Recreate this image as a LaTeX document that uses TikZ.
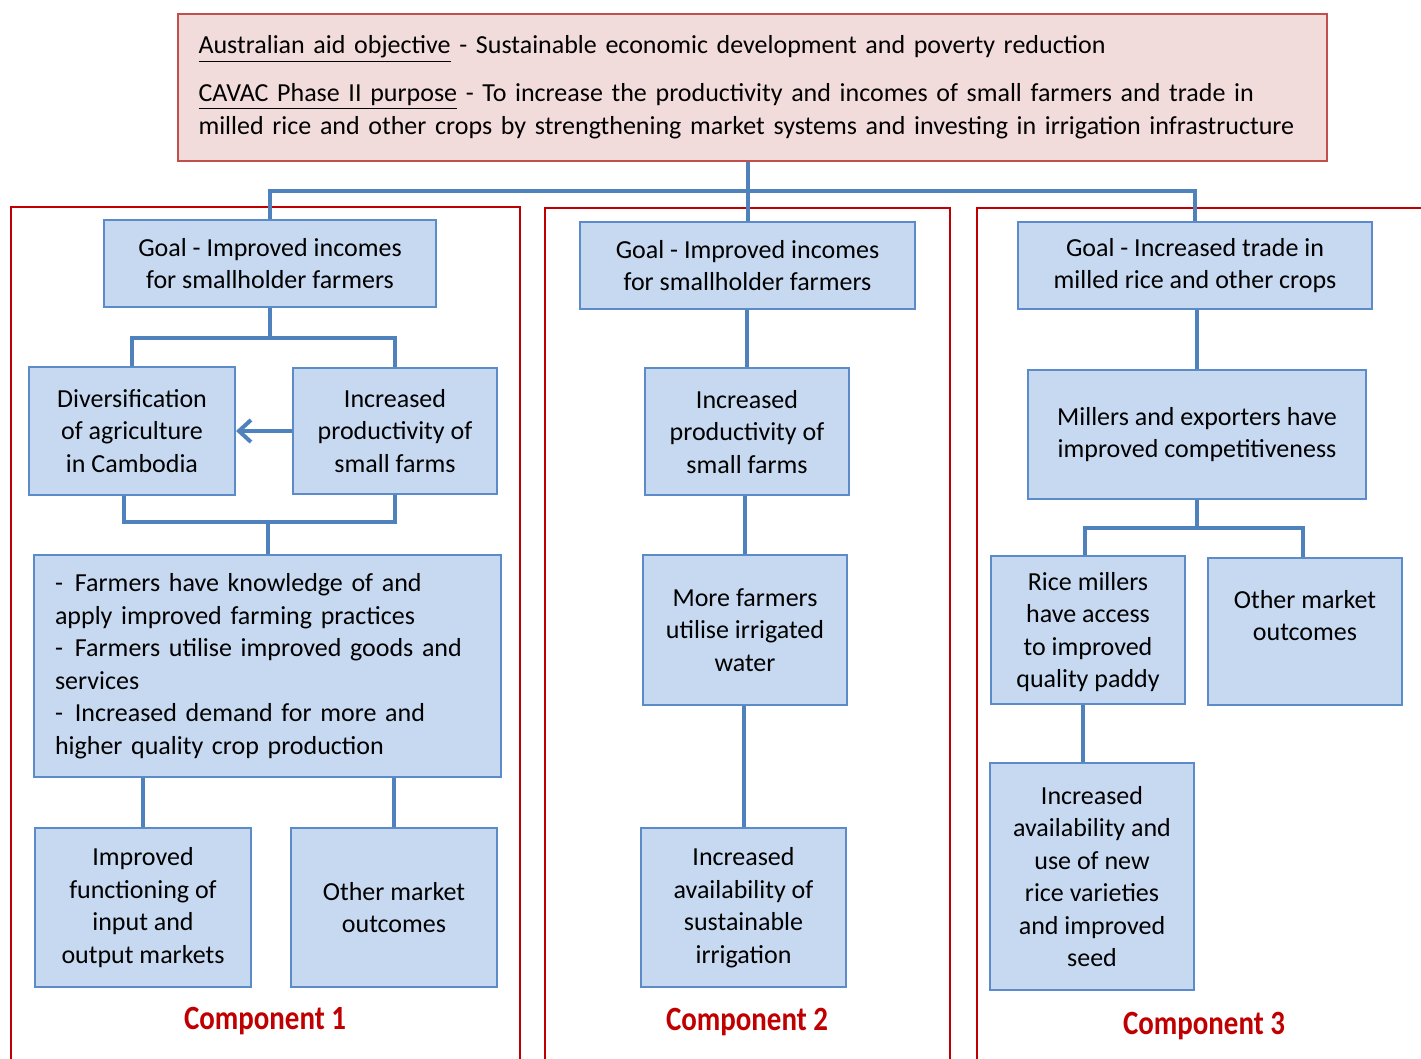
\documentclass[tikz,border=0pt]{standalone}
\usepackage{fontspec}
\setmainfont{Carlito}
\usetikzlibrary{arrows.meta}

\definecolor{boxfill}{HTML}{C6D9F1}
\definecolor{boxline}{HTML}{5B8BC9}
\definecolor{connblue}{HTML}{4F81BD}
\definecolor{pinkfill}{HTML}{F2DCDB}
\definecolor{pinkline}{HTML}{C0504D}
\definecolor{framered}{HTML}{C00000}

\tikzset{
  box/.style={draw=boxline, fill=boxfill, line width=1pt, align=center,
    inner sep=2pt, font=\fontsize{13}{16.25}\selectfont},
  conn/.style={draw=connblue, line width=2pt},
  frame/.style={draw=framered, line width=1.3pt},
  complabel/.style={text=framered, font=\fontsize{17}{20}\selectfont\bfseries}
}

\begin{document}
\begin{tikzpicture}[x=0.5pt, y=-0.5pt]
\useasboundingbox (0,0) rectangle (1421,1059);

% component frames, open at the bottom
\draw[frame] (11,1080) -- (11,207) -- (520,207) -- (520,1080);
\draw[frame] (545,1080) -- (545,208) -- (950,208) -- (950,1080);
\draw[frame] (977,1080) -- (977,208) -- (1440,208);

% overall objective
\node[draw=pinkline, fill=pinkfill, line width=1pt, minimum width=574.5pt,
      minimum height=73.5pt, text width=554pt, inner xsep=10pt, align=left,
      font=\fontsize{13}{16.5}\selectfont] (top) at (752.5,87.5)
  {\underline{Australian aid objective} - Sustainable economic development and poverty reduction\\[7.5pt]
   \underline{CAVAC Phase II purpose} - To increase the productivity and incomes of small farmers and trade in\\
   milled rice and other crops by strengthening market systems and investing in irrigation infrastructure};

% component 1
\node[box, minimum width=166pt, minimum height=43.5pt] (G1) at (270,263.5)
  {Goal - Improved incomes\\for smallholder farmers};
\node[box, minimum width=103pt, minimum height=64pt] (D) at (132,431)
  {Diversification\\of agriculture\\in Cambodia};
\node[box, minimum width=102pt, minimum height=63pt] (I1) at (395,431)
  {Increased\\productivity of\\small farms};
\node[box, minimum width=233.5pt, minimum height=111pt, text width=212.5pt,
      inner xsep=10.5pt, align=left] (F) at (267.5,666)
  {-\hspace{6pt}Farmers have knowledge of and\\
   apply improved farming practices\\
   -\hspace{6pt}Farmers utilise improved goods and\\
   services\\
   -\hspace{6pt}Increased demand for more and\\
   higher quality crop production};
\node[box, minimum width=108pt, minimum height=79.5pt] (IF) at (143,907.5)
  {Improved\\functioning of\\input and\\output markets};
\node[box, minimum width=103pt, minimum height=79.5pt] (OM1) at (394,907.5)
  {Other market\\outcomes};
\node[complabel] (C1) at (265,1021) {\scalebox{0.85}[1]{Component 1}};

% component 2
\node[box, minimum width=167.5pt, minimum height=43.5pt] (G2) at (747.5,265.5)
  {Goal - Improved incomes\\for smallholder farmers};
\node[box, minimum width=102pt, minimum height=63.5pt] (I2) at (747,432)
  {Increased\\productivity of\\small farms};
\node[box, minimum width=102pt, minimum height=75pt] (MF) at (745,630)
  {More farmers\\utilise irrigated\\water};
\node[box, minimum width=102.5pt, minimum height=79.5pt] (IA) at (743.5,907.5)
  {Increased\\availability of\\sustainable\\irrigation};
\node[complabel] (C2) at (747,1022) {\scalebox{0.85}[1]{Component 2}};

% component 3
\node[box, minimum width=177pt, minimum height=43.5pt] (G3) at (1195,265.5)
  {Goal - Increased trade in\\milled rice and other crops};
\node[box, minimum width=169pt, minimum height=64.5pt] (ME) at (1197,434.5)
  {Millers and exporters have\\improved competitiveness};
\node[box, minimum width=97pt, minimum height=74pt, text depth=0pt] (RM) at (1088,630)
  {Rice millers\\have access\\to improved\\quality paddy};
\node[box, minimum width=97pt, minimum height=73.5pt, anchor=north, text depth=16pt] (OM3) at (1305,557)
  {Other market\\outcomes};
\node[box, minimum width=102pt, minimum height=113.5pt] (IU) at (1092,876.5)
  {Increased\\availability and\\use of new\\rice varieties\\and improved\\seed};
\node[complabel] (C3) at (1204,1026) {\scalebox{0.85}[1]{Component 3}};

% connectors from the objective to the goals
\coordinate (hub) at (747.5,191);
\draw[conn] (G2.north |- top.south) -- (G2.north);
\draw[conn] (G1.north) |- (hub) -| (G3.north);

% component 1 connectors
\coordinate (h1) at (270,338);
\draw[conn] (G1.south) -- (h1);
\draw[conn] (D.north) |- (h1) -| (I1.north);
\draw[conn, -{Straight Barb[length=6pt, width=11pt]}] (I1.west) -- (I1.west -| D.east);
\coordinate (h2) at (267.5,522);
\draw[conn] ([xshift=-4pt]D.south) |- (h2) -| (I1.south);
\draw[conn] (h2) -- (F.north);
\draw[conn] (IF.north |- F.south) -- (IF.north);
\draw[conn] (OM1.north |- F.south) -- (OM1.north);

% component 2 connectors
\draw[conn] (G2.south -| I2.north) -- (I2.north);
\draw[conn] (I2.south -| MF.north) -- (MF.north);
\draw[conn] (MF.south -| IA.north) -- (IA.north);

% component 3 connectors
\draw[conn] (G3.south -| ME.north) -- (ME.north);
\coordinate (h3) at (1197,528);
\draw[conn] (ME.south) -- (h3);
\draw[conn] ([xshift=-1.5pt]RM.north) |- (h3) -| ([xshift=-1pt]OM3.north);
\draw[conn] ([xshift=-2.5pt]RM.south) -- ([xshift=-2.5pt]RM.south |- IU.north);
\end{tikzpicture}
\end{document}
